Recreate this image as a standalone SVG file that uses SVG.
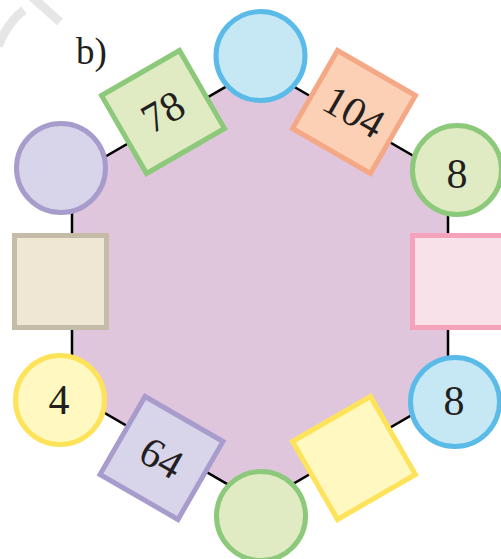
<svg xmlns="http://www.w3.org/2000/svg" width="501" height="559" viewBox="0 0 501 559">
<style>
.num{font-family:"Liberation Serif","DejaVu Serif",serif;font-size:42px;fill:#231f20;text-anchor:middle}
.sq{stroke-width:5}
.ci{stroke-width:5}
.blue{stroke:#5bbbe8;fill:#c6e7f4}
.purple{stroke:#a89ccc;fill:#d8d5eb}
.green{stroke:#8cc97a;fill:#e0ebc4}
.yellow{stroke:#fde35a;fill:#fff8c0}
.orange{stroke:#f4a886;fill:#fbd0b4}
.beige{stroke:#c5bca8;fill:#efe6d4}
.pink{stroke:#f4a3bb;fill:#f9e1ea}
</style>
<rect width="501" height="559" fill="#fff"/>
<g id="watermark" stroke="#e6e6e6" stroke-width="9" fill="none">
<path d="M32,-3 L60,22"/>
<path d="M-2,46 Q8,22 24,10"/>
</g>
<text x="76" y="64" style="font-family:'Liberation Serif','DejaVu Serif',serif;font-size:37px;fill:#231f20">b)</text>
<g id="connectors">
<polygon id="hexagon" points="260,67 448,176 448,394 260,503 72,394 72,176" fill="#e0c6dd" stroke="#000" stroke-width="2.5"/>
</g>
<g id="c-top"><circle class="ci blue" cx="260.5" cy="56" r="44.5"/></g>
<g id="c-topleft"><circle class="ci purple" cx="61" cy="168" r="44.5"/></g>
<g id="c-topright"><circle class="ci green" cx="457" cy="170" r="44.5"/><text class="num" x="457" y="188">8</text></g>
<g id="c-botleft"><circle class="ci yellow" cx="60" cy="400" r="44.5"/><text class="num" x="59" y="414">4</text></g>
<g id="c-botright"><circle class="ci blue" cx="455" cy="402" r="44.5"/><text class="num" x="454" y="415">8</text></g>
<g id="c-bottom"><circle class="ci green" cx="261" cy="516" r="44.5"/></g>
<g id="s-78" transform="translate(163,112) rotate(-30)"><rect class="sq green" x="-45" y="-45" width="90" height="90"/><text class="num" x="0" y="14">78</text></g>
<g id="s-104" transform="translate(354,112) rotate(30)"><rect class="sq orange" x="-45" y="-45" width="90" height="90"/><text class="num" x="0" y="14">104</text></g>
<g id="s-left"><rect class="sq beige" x="14.5" y="235.5" width="92" height="92"/></g>
<g id="s-right"><rect class="sq pink" x="412.5" y="235.5" width="92" height="92"/></g>
<g id="s-64" transform="translate(161.5,458) rotate(30)"><rect class="sq purple" x="-45" y="-45" width="90" height="90"/><text class="num" x="0" y="14">64</text></g>
<g id="s-botright" transform="translate(354,458) rotate(-30)"><rect class="sq yellow" x="-45" y="-45" width="90" height="90"/></g>
</svg>
